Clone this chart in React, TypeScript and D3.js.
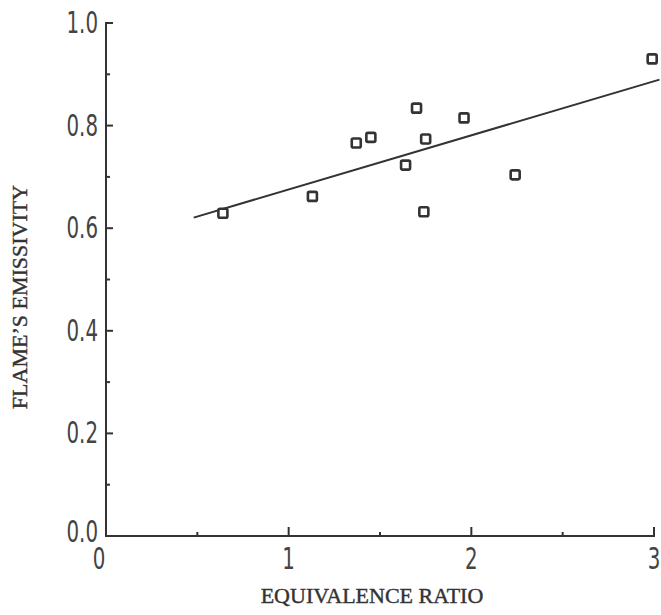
import * as d3 from "d3";
import { useEffect, useRef } from "react";

// equivalence ratio vs flame's emissivity
const ratio = [0.64, 1.13, 1.37, 1.45, 1.64, 1.70, 1.75, 1.74, 1.96, 2.24, 2.99];
const emissivity = [0.629, 0.662, 0.766, 0.777, 0.723, 0.834, 0.774, 0.632, 0.815, 0.704, 0.930];

// fitted line drawn on the figure
const fitX = [0.48, 3.03];
const fitIntercept = 0.570;
const fitSlope = 0.1055;

const xMajor = [1, 2, 3];
const xMinor = [0.5, 1.5, 2.5];
const xLabels = ["0", "1", "2", "3"];
const yMajor = [0, 0.2, 0.4, 0.6, 0.8, 1.0];
const yMinor = [0.1, 0.3, 0.5, 0.7, 0.9];

const W = 661, H = 615;
const ink = "#333";
const numFont = "'DejaVu Sans', sans-serif";
const titleFont = "'Liberation Serif', 'DejaVu Serif', serif";
const squeeze = 0.66; // digits in the figure are a narrow face

const App = () => {
    const ref = useRef<SVGSVGElement>(null);

    useEffect(() => {
        const svg = d3.select(ref.current);
        svg.selectAll("*").remove();

        var x = d3.scaleLinear().domain([0, 3]).range([106, 654]);
        var y = d3.scaleLinear().domain([0, 1]).range([536, 23]);

        const axes = svg.append("g")
            .attr("stroke", ink)
            .attr("stroke-width", 2)
            .attr("fill", "none");

        // frame: y axis + x axis
        axes.append("path")
            .attr("d", `M${x(0) + 7},${y(1)}H${x(0)}V${y(0)}H${x(3)}V${y(0) - 9}`);

        axes.selectAll(".ymaj").data(yMajor).enter().append("line")
            .attr("x1", x(0)).attr("x2", x(0) + 7)
            .attr("y1", d => y(d)).attr("y2", d => y(d));
        axes.selectAll(".ymin").data(yMinor).enter().append("line")
            .attr("x1", x(0)).attr("x2", x(0) + 4)
            .attr("y1", d => y(d)).attr("y2", d => y(d));
        axes.selectAll(".xmaj").data(xMajor).enter().append("line")
            .attr("x1", d => x(d)).attr("x2", d => x(d))
            .attr("y1", y(0)).attr("y2", y(0) - 9);
        axes.selectAll(".xmin").data(xMinor).enter().append("line")
            .attr("x1", d => x(d)).attr("x2", d => x(d))
            .attr("y1", y(0)).attr("y2", y(0) - 4);

        // tick labels (0.0 sits a little higher, clear of the x "0")
        svg.append("g").selectAll("text").data(yMajor).enter().append("text")
            .attr("transform", d => `translate(${x(0) - 8},${y(d) + (d === 0 ? 6 : 10)}) scale(${squeeze},1)`)
            .attr("text-anchor", "end")
            .attr("font-family", numFont)
            .attr("font-size", 30)
            .attr("fill", "#444")
            .text(d => d.toFixed(1));

        svg.append("g").selectAll("text").data(xLabels).enter().append("text")
            .attr("transform", (d, i) => `translate(${x(i) - (i === 0 ? 7 : 0)},569) scale(${squeeze},1)`)
            .attr("text-anchor", "middle")
            .attr("font-family", numFont)
            .attr("font-size", 30)
            .attr("fill", "#444")
            .text(d => d);

        // fit line
        const line = d3.line<number>()
            .x(d => x(d))
            .y(d => y(fitIntercept + fitSlope * d));
        svg.append("path")
            .datum(fitX)
            .attr("d", line)
            .attr("stroke", ink)
            .attr("stroke-width", 2)
            .attr("fill", "none");

        // markers
        const pts = ratio.map((r, i) => ({ r, e: emissivity[i] }));
        svg.append("g").selectAll("rect").data(pts).enter().append("rect")
            .attr("x", d => x(d.r) - 4.5)
            .attr("y", d => y(d.e) - 4.5)
            .attr("width", 9)
            .attr("height", 9)
            .attr("rx", 1.5)
            .attr("fill", "white")
            .attr("stroke", ink)
            .attr("stroke-width", 2.6);

        // axis titles
        svg.append("text")
            .attr("x", 372)
            .attr("y", 603)
            .attr("text-anchor", "middle")
            .attr("font-family", titleFont)
            .attr("font-size", 22)
            .attr("fill", ink)
            .attr("stroke", ink)
            .attr("stroke-width", 0.4)
            .text("EQUIVALENCE RATIO");

        svg.append("text")
            .attr("transform", `translate(27,297) rotate(-90)`)
            .attr("text-anchor", "middle")
            .attr("font-family", titleFont)
            .attr("font-size", 22)
            .attr("fill", ink)
            .attr("stroke", ink)
            .attr("stroke-width", 0.4)
            .text("FLAME\u2019S EMISSIVITY");
    });

    return (
        <svg ref={ref} width={W} height={H}
            style={{ position: "absolute", left: 0, top: 0, background: "white" }} />
    );
};

export default App;
